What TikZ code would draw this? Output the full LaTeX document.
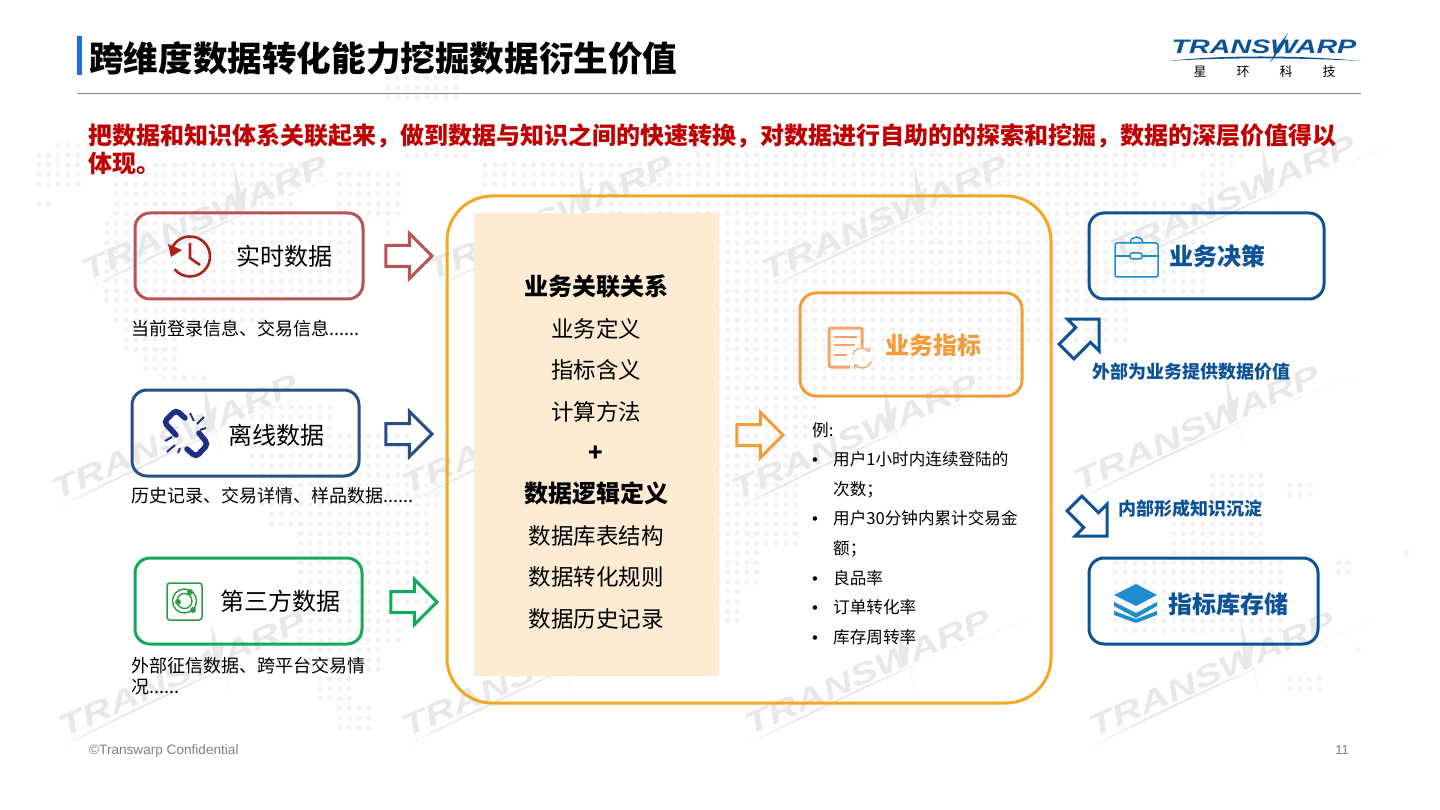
\documentclass[tikz,border=0pt]{standalone}
\usepackage{fontspec}
\setmainfont{Noto Sans CJK SC}
\newfontfamily\latinfont{Liberation Sans}
\definecolor{twblue}{RGB}{11,82,150}
\definecolor{twsky}{RGB}{32,140,208}
\definecolor{twbar}{RGB}{29,111,224}
\definecolor{twred}{RGB}{192,0,0}
\definecolor{twrose}{RGB}{184,82,84}
\definecolor{twclock}{RGB}{170,36,28}
\definecolor{twnavy}{RGB}{38,79,133}
\definecolor{twlink}{RGB}{31,46,134}
\definecolor{twgreen}{RGB}{20,168,90}
\definecolor{twleaf}{RGB}{46,155,69}
\definecolor{tworange}{RGB}{245,166,35}
\definecolor{twamber}{RGB}{241,157,60}
\definecolor{twpeach}{RGB}{244,164,106}
\definecolor{twsand}{RGB}{253,235,212}
\definecolor{twdot}{RGB}{243,243,243}
\definecolor{twmark}{RGB}{232,232,232}
\usetikzlibrary{shapes.arrows}
\newcommand{\paneline}[1]{{\fontsize{22.5}{41.4}\selectfont #1}}
\newcommand{\listbullet}{\makebox[21pt][l]{\latinfont •}}

\begin{document}
\begin{tikzpicture}[x=1pt,y=-1pt,
  srcbox/.style={draw, line width=3pt, rounded corners=15pt, minimum height=86pt, inner sep=0pt},
  blockarrow/.style={single arrow, draw, line width=3pt, minimum height=46pt, inner xsep=0pt, inner ysep=9pt, single arrow head extend=12pt, single arrow head indent=0pt, anchor=tip},
  boxtext/.style={font=\fontsize{24}{28}\selectfont, inner sep=0pt},
  caption/.style={font=\fontsize{18}{21}\selectfont, anchor=west, align=left, inner sep=0pt},
  outlabel/.style={font=\fontsize{18}{21}\selectfont\bfseries, text=twblue, anchor=west, inner sep=0pt},
  wmark/.style={font=\latinfont\fontsize{30}{30}\selectfont\bfseries\itshape, text=twmark, inner sep=0pt, transform shape}
]
  \useasboundingbox (0,0) rectangle (1440,810);

  %% World map of dots
  \fill[twdot] \foreach \ia/\ib/\ja/\jb in {
    4/8/16/19, 4/5/21/21, 6/32/15/15, 12/33/17/18, 12/30/19/22, 11/36/23/30, 11/29/31/31,
    12/27/32/33, 13/18/34/36, 15/18/37/38, 17/21/39/39, 35/41/18/22, 40/40/23/24, 40/47/8/10,
    42/48/13/16, 25/34/42/44, 26/42/45/48, 27/45/49/52, 28/44/53/54, 31/44/55/62, 31/41/63/66,
    32/39/67/69, 33/36/70/72, 35/38/73/75, 50/72/17/19, 62/74/21/28,
    72/129/15/15, 72/128/16/16, 72/121/17/17, 125/127/17/17, 72/117/18/20, 124/126/18/20,
    74/124/21/30, 74/116/31/35, 74/105/36/40, 75/84/41/45, 74/82/46/56, 74/78/57/60, 74/76/61/64,
    125/130/49/51, 133/135/50/51, 121/130/54/57, 115/132/58/65,
    145/145/57/57, 138/139/58/59, 140/140/67/67, 133/136/70/71} {
    \foreach \i in {\ia,...,\ib} { \foreach \j in {\ja,...,\jb} { ({\i*9.7},{\j*9.7}) circle (2.7pt) } }
  };

  %% Watermarks
  \foreach \wx/\wy [count=\wn] in {205/218, 550/218, 885/218, 1233/198, 175/437, 525/432, 855/437, 1197/428, 182/674, 525/674, 868/672, 1212/674} {
    \begin{scope}[shift={(\wx,\wy)},rotate=24]
      \node[wmark] (wm\wn) at (0,0) {\scalebox{1.38}[1]{TRANSWARP}};
      \fill[twmark] (-135,17) .. controls (-40,10) and (60,10) .. (165,17) -- (60,12) -- cycle;
      \fill[twmark] (48,-36) -- (36,34) -- (41,8) -- (30,10) -- cycle;
    \end{scope}
  }

  %% Title and logo
  \fill[twbar] (77,36) rectangle (82,75);
  \node[font=\fontsize{34.6}{40}\selectfont\bfseries, anchor=west, inner sep=0pt] (title) at (89,58) {跨维度数据转化能力挖掘数据衍生价值};
  \draw[gray, line width=0.8pt] (78,93) -- (1361,93);
  \node[font=\latinfont\fontsize{19.5}{20}\selectfont\bfseries\itshape, text=twblue, inner sep=0pt] (logo) at (1264,47) {\scalebox{1.47}[1]{TRANSWARP}};
  \fill[twblue] (1168,61) .. controls (1220,55) and (1300,55) .. (1360,61) .. controls (1300,57.5) and (1220,57.5) .. (1168,61) -- cycle;
  \fill[twblue] (1288,33) -- (1278,52) -- (1270,63) -- (1278,46) -- cycle;
  \node[font=\fontsize{13}{15}\selectfont, inner sep=0pt] (cn1) at (1200,72) {星};
  \node[font=\fontsize{13}{15}\selectfont, inner sep=0pt] (cn2) at (1243,72) {环};
  \node[font=\fontsize{13}{15}\selectfont, inner sep=0pt] (cn3) at (1286,72) {科};
  \node[font=\fontsize{13}{15}\selectfont, inner sep=0pt] (cn4) at (1329,72) {技};

  %% Lead sentence
  \node[font=\fontsize{24}{28}\selectfont\bfseries, text=twred, align=left, anchor=north west, inner sep=0pt] (lead) at (88,123) {把数据和知识体系关联起来，做到数据与知识之间的快速转换，对数据进行自助的的探索和挖掘，数据的深层价值得以\\体现。};

  %% Source: real time
  \node[srcbox, draw=twrose, minimum width=228pt] (rt) at (249,256) {};
  \node[boxtext] (rtt) at (284,256) {实时数据};
  \node[caption] (rtc) at (131,329) {当前登录信息、交易信息......};
  \node[blockarrow, draw=twrose] (rta) at (434,256) {};
  \draw[twclock, line width=2.6pt] (190,256.5) ++(149:20pt) arc[start angle=149, end angle=-141, radius=20pt];
  \fill[twclock] (168,244) -- (182,250) -- (171,257) -- cycle;
  \draw[twclock, line width=2.6pt] (190,243) -- (190,258) -- (200,265);

  %% Source: offline
  \node[srcbox, draw=twnavy, minimum width=227pt] (lx) at (245.5,433) {};
  \node[boxtext] (lxt) at (276,435) {离线数据};
  \node[caption] (lxc) at (131,496) {历史记录、交易详情、样品数据......};
  \node[blockarrow, draw=twnavy] (lxa) at (434,434) {};
  \draw[twlink, line width=5.5pt, rounded corners=4pt, line cap=round] (185,418) -- (176,410) -- (164,422) -- (176,435);
  \draw[twlink, line width=5.5pt, rounded corners=4pt, line cap=round] (187,449) -- (196,457) -- (208,444) -- (199,433);
  \draw[twlink, line width=2pt] (190,413) -- (194,421) (204,417) -- (197,424) (206,428) -- (200,430);
  \draw[twlink, line width=2pt] (165,441) -- (172,437) (167,452) -- (175,445) (178,453) -- (180,448);

  %% Source: third party
  \node[srcbox, draw=twgreen, minimum width=227pt] (tp) at (248.5,601) {};
  \node[boxtext] (tpt) at (280,601) {第三方数据};
  \node[caption] (tpc) at (131,676.5) {外部征信数据、跨平台交易情\\况......};
  \node[blockarrow, draw=twgreen] (tpa) at (439,602) {};
  \draw[twleaf, line width=1.5pt, rounded corners=3pt] (167,583) rectangle (202,620);
  \draw[twleaf, line width=1.4pt] (184.5,601) circle (12pt) (184.5,601) circle (7.5pt);
  \fill[twleaf] (178,602) circle (3pt) (190,592) circle (3pt) (193,610) circle (3pt);

  %% Central block
  \draw[tworange, line width=3pt, rounded corners=45pt] (447,196) rectangle (1051,703);
  \node[fill=twsand, minimum width=245pt, minimum height=463pt, inner sep=0pt] (panel) at (596.5,444.5) {};
  \node[font=\fontsize{24}{41.4}\selectfont, align=center, inner sep=0pt] (paneltext) at (596,452) {\textbf{业务关联关系}\\\paneline{业务定义}\\\paneline{指标含义}\\\paneline{计算方法}\\\textbf{+}\\\textbf{数据逻辑定义}\\\paneline{数据库表结构}\\\paneline{数据转化规则}\\\paneline{数据历史记录}};
  \node[blockarrow, draw=twamber] (ina) at (785,435) {};

  %% Business metrics
  \node[draw=twamber, line width=3pt, rounded corners=16pt, minimum width=222pt, minimum height=103pt, inner sep=0pt] (kpi) at (911,344.5) {};
  \node[boxtext, font=\fontsize{24}{28}\selectfont\bfseries, text=twamber] (kpit) at (933,345) {业务指标};
  \draw[twpeach, line width=3pt, rounded corners=2pt] (862,347) -- (862,328) -- (829,328) -- (829,367) -- (850,367);
  \draw[twpeach, line width=2.6pt] (834,337) -- (857,337) (834,345) -- (855,345) (834,355) -- (847,355);
  \draw[twpeach, line width=1.3pt, ->] (862,358) ++(160:10pt) arc[start angle=160, end angle=40, radius=10pt];
  \draw[twpeach, line width=1.3pt, ->] (862,358) ++(-20:10pt) arc[start angle=-20, end angle=-140, radius=10pt];
  \node[font=\fontsize{16.6}{29.6}\selectfont, align=left, anchor=west, inner sep=0pt] (kpil) at (812,533.5) {例:\\\listbullet 用户1小时内连续登陆的\\\makebox[21pt][l]{}次数；\\\listbullet 用户30分钟内累计交易金\\\makebox[21pt][l]{}额；\\\listbullet 良品率\\\listbullet 订单转化率\\\listbullet 库存周转率};

  %% Business decisions
  \node[srcbox, draw=twblue, minimum width=235pt] (dec) at (1206.5,256) {};
  \node[boxtext, font=\fontsize{24}{28}\selectfont\bfseries, text=twblue] (dect) at (1217,256) {业务决策};
  \draw[twsky, line width=1.5pt, rounded corners=2pt] (1115,243) rectangle (1158,277);
  \draw[twsky, line width=1.5pt] (1115,256) -- (1130,256) (1142,256) -- (1158,256);
  \draw[twsky, line width=1.5pt, rounded corners=2pt] (1130,253) rectangle (1142,259);
  \draw[twsky, line width=1.5pt] (1130,243) .. controls (1131,235) and (1142,235) .. (1143,243);
  \node[blockarrow, draw=twblue, rotate=45] (upa) at (1100.5,317.5) {};
  \node[outlabel] (upl) at (1092,372) {外部为业务提供数据价值};

  %% Metric store
  \node[srcbox, draw=twblue, minimum width=229pt] (store) at (1203.5,601) {};
  \node[boxtext, font=\fontsize{24}{28}\selectfont\bfseries, text=twblue] (storet) at (1228,604) {指标库存储};
  \fill[twsky] (1114,595) -- (1136,584) -- (1157,595) -- (1136,606) -- cycle;
  \fill[twsky] (1114,602) -- (1136,613) -- (1157,602) -- (1157,606) -- (1136,618) -- (1114,606) -- cycle;
  \fill[twsky] (1114,611) -- (1136,619) -- (1157,611) -- (1157,615) -- (1136,623) -- (1114,615) -- cycle;
  \node[blockarrow, draw=twblue, rotate=-45] (dna) at (1108.5,537.5) {};
  \node[outlabel] (dnl) at (1118,509) {内部形成知识沉淀};

  %% Footer
  \node[font=\latinfont\fontsize{13.6}{15}\selectfont, text=gray, anchor=west, inner sep=0pt] (conf) at (89,750.5) {©Transwarp Confidential};
  \node[font=\latinfont\fontsize{13}{15}\selectfont, text=gray, inner sep=0pt] (page) at (1342,750) {11};
\end{tikzpicture}
\end{document}
